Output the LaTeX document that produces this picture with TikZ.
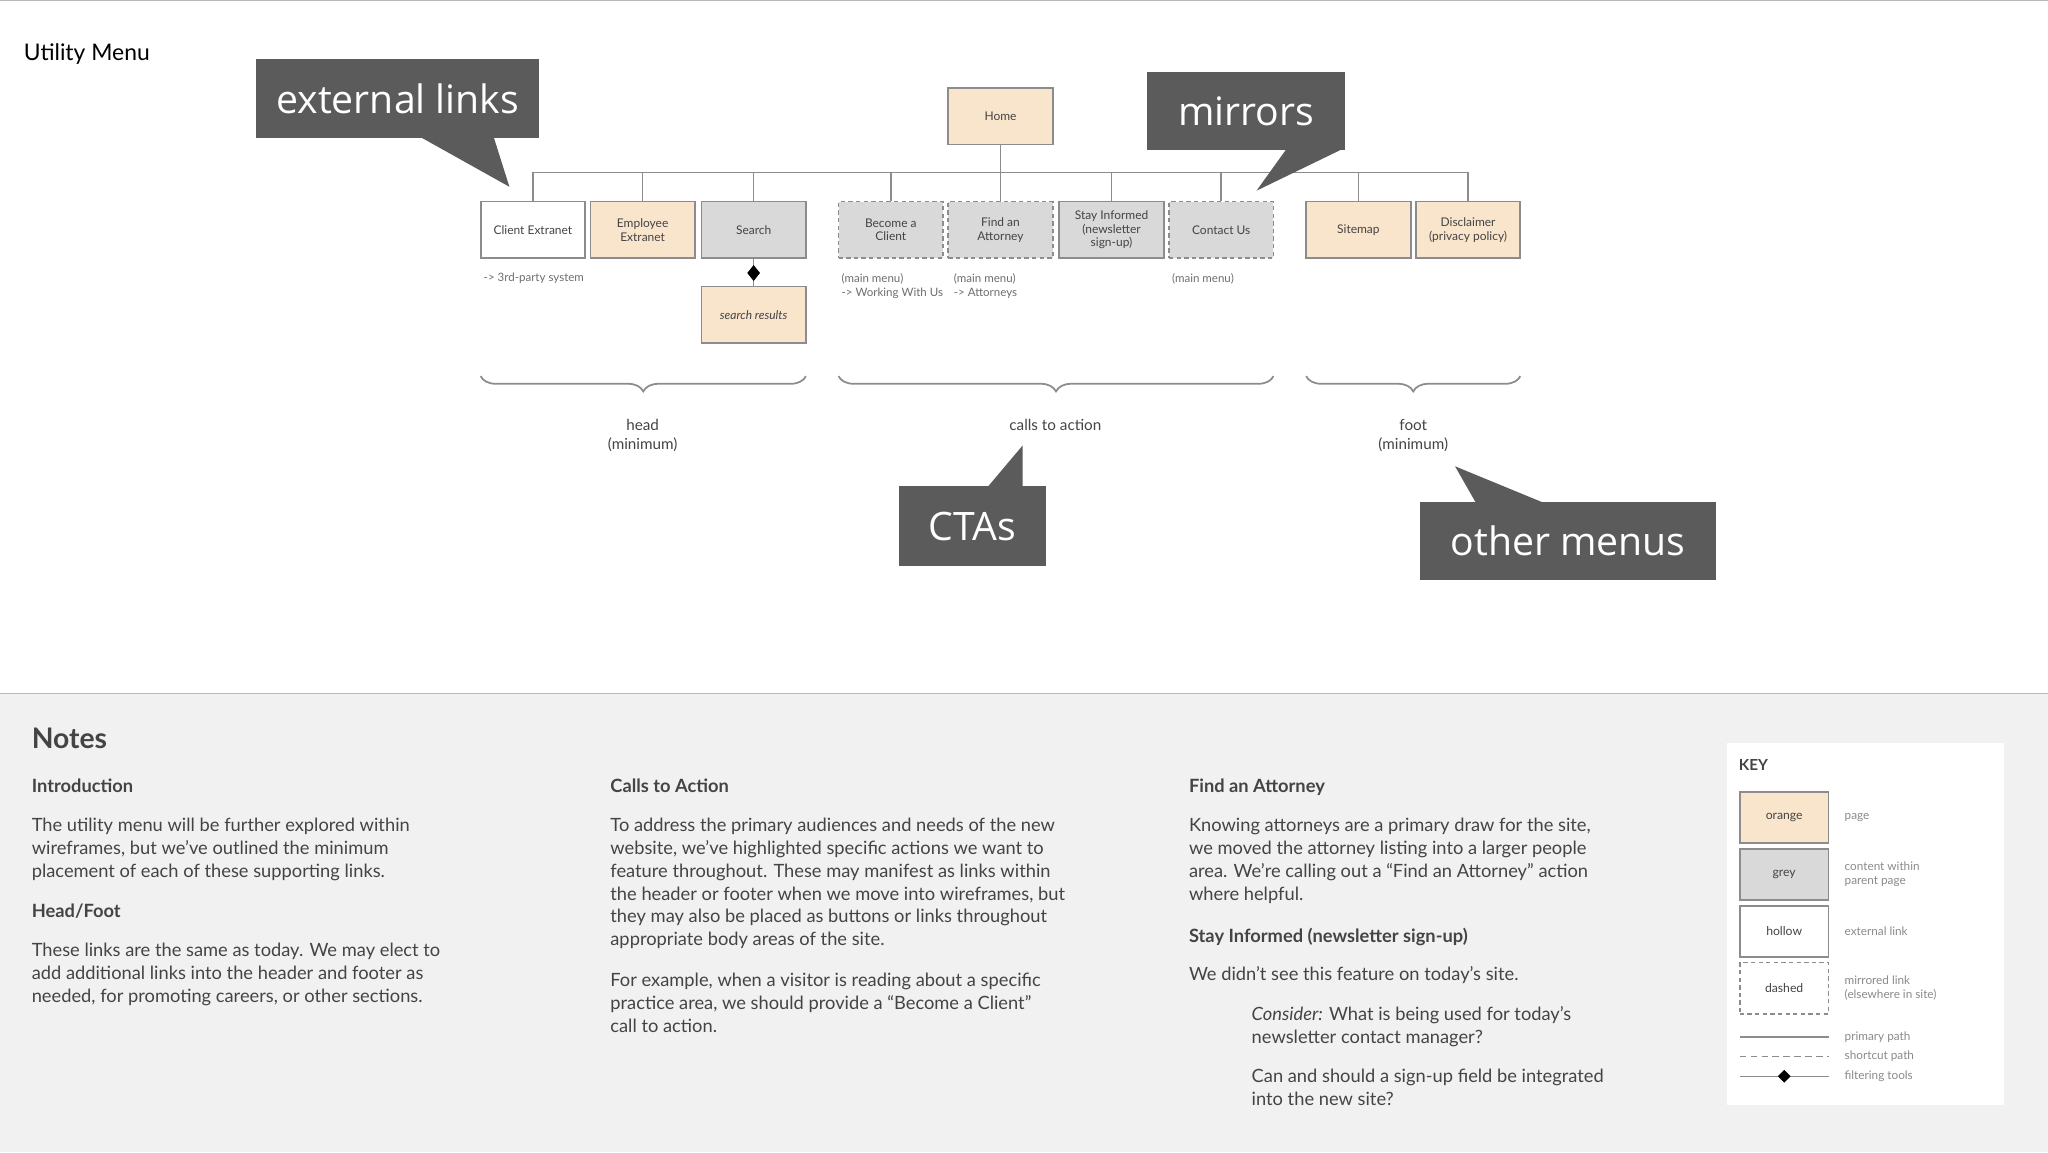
\documentclass[tikz,border=0pt]{standalone}
\usepackage{fontspec}
\setmainfont{Lato}
\newfontfamily\callfont{Open Sans}
\usetikzlibrary{decorations.pathreplacing,shapes.geometric}
\definecolor{peach}{HTML}{F9E4CC}
\definecolor{greyfill}{HTML}{D9D9D9}
\definecolor{bord}{HTML}{8C8C8C}
\definecolor{callout}{HTML}{5B5B5B}
\definecolor{txt}{HTML}{444444}
\definecolor{notebg}{HTML}{F2F1F1}
\definecolor{light}{HTML}{8A8A8A}
\tikzset{
 box/.style={draw=bord,line width=0.8pt,minimum width=48pt,minimum height=26pt,inner sep=1pt,align=center,font=\fontsize{5.5}{6.3}\selectfont,text=txt},
 page/.style={box,fill=peach},
 grey/.style={box,fill=greyfill},
 hollow/.style={box,fill=white},
 mirror/.style={box,fill=greyfill,dashed,dash pattern=on 2pt off 1.5pt},
 small/.style={font=\fontsize{5.3}{6.6}\selectfont,text=light!80!black,align=left,anchor=north west,inner sep=0},
 blab/.style={font=\fontsize{7}{8.4}\selectfont,text=txt,align=center,anchor=north,inner sep=0},
 call/.style={fill=callout,draw=none},
 calltxt/.style={text=white,font=\callfont\fontsize{18}{22}\selectfont},
 head/.style={font=\bfseries\fontsize{8.4}{10}\selectfont,text=txt,anchor=north west,inner sep=0},
 para/.style={font=\fontsize{8.4}{10.5}\selectfont,text=txt,anchor=north west,inner sep=0,align=left},
 link/.style={draw=bord,line width=0.7pt},
 klab/.style={font=\fontsize{5.4}{6.5}\selectfont,text=light,anchor=west,align=left,inner sep=0},
}
\begin{document}
\begin{tikzpicture}[x=0.6pt,y=-0.6pt]
\useasboundingbox (0,0) rectangle (1568,882);
\fill[white] (0,0) rectangle (1568,531);
\fill[notebg] (0,531) rectangle (1568,882);
\draw[bord!60,line width=0.8pt] (0,531) -- (1568,531);
\draw[bord!60,line width=0.6pt] (0,0.5) -- (1568,0.5);
\node[anchor=west,inner sep=0,font=\fontsize{10.5}{12}\selectfont] (um) at (18,41) {Utility Menu};

% nodes
\node[page] (home) at (766,89) {Home};
\coordinate (bus) at (766,132);
\node[hollow] (ce) at (408,176) {Client Extranet};
\node[page] (ee) at (492,176) {Employee\\Extranet};
\node[grey] (se) at (577,176) {Search};
\node[mirror] (bc) at (682,176) {Become a\\Client};
\node[mirror] (fa) at (766,176) {Find an\\Attorney};
\node[grey] (si) at (851,176) {Stay Informed\\(newsletter\\sign-up)};
\node[mirror] (cu) at (935,176) {Contact Us};
\node[page] (sm) at (1040,176) {Sitemap};
\node[page] (di) at (1124,176) {Disclaimer\\(privacy policy)};
\node[page,font=\itshape\fontsize{5.5}{6.3}\selectfont] (sr) at (577,241) {search results};

\draw[link] (home) -- (bus);
\draw[link] (ce.north) |- (bus) -| (di.north);
\foreach \n in {ee,se,bc,fa,si,cu,sm}{\draw[link] (\n.north) -- (\n.north |- bus);}
\draw[link] (se) -- (sr);
\node[diamond,fill=black,inner sep=0,minimum width=6pt,minimum height=7.5pt] (dm) at (577,209) {};

\node[small] (n1) at (370,209) {-> 3rd-party system};
\node[small] (n2) at (644,209) {(main menu)\\-> Working With Us};
\node[small] (n3) at (730,209) {(main menu)\\-> Attorneys};
\node[small] (n4) at (897,209) {(main menu)};

% braces
\draw[bord,line width=0.8pt,decorate,decoration={brace,mirror,amplitude=7pt}] (368,288) -- (617,288);
\draw[bord,line width=0.8pt,decorate,decoration={brace,mirror,amplitude=7pt}] (642,288) -- (975,288);
\draw[bord,line width=0.8pt,decorate,decoration={brace,mirror,amplitude=7pt}] (1000,288) -- (1164,288);
\node[blab] (bh) at (492,321) {head\\(minimum)};
\node[blab] (bca) at (808,321) {calls to action};
\node[blab] (bf) at (1082,321) {foot\\(minimum)};

% callouts
\fill[call] (196,45) rectangle (413,106);
\fill[call] (322,105) -- (378,105) -- (390,143) -- cycle;
\node[calltxt] (c1) at (304.5,76) {external links};
\fill[call] (878,55) rectangle (1030,115);
\fill[call] (985,114) -- (1028,114) -- (962,146) -- cycle;
\node[calltxt] (c2) at (954,85) {mirrors};
\fill[call] (688,372) rectangle (801,433);
\fill[call] (756,373) -- (783,341) -- (783,373) -- cycle;
\node[calltxt] (c3) at (744.5,403) {CTAs};
\fill[call] (1087,384) rectangle (1314,444);
\fill[call] (1114,357) -- (1130,385) -- (1182,385) -- cycle;
\node[calltxt] (c4) at (1200.5,414) {other menus};

% notes
\node[head,font=\bfseries\fontsize{13}{15}\selectfont] (nt) at (24,557) {Notes};
\node[head] (h1) at (24,596) {Introduction};
\node[para] (p1) at (24,626) {The utility menu will be further explored within\\wireframes, but we’ve outlined the minimum\\placement of each of these supporting links.};
\node[head] (h2) at (24,692) {Head/Foot};
\node[para] (p2) at (24,722) {These links are the same as today. We may elect to\\add additional links into the header and footer as\\needed, for promoting careers, or other sections.};
\node[head] (h3) at (467,596) {Calls to Action};
\node[para] (p3) at (467,626) {To address the primary audiences and needs of the new\\website, we’ve highlighted specific actions we want to\\feature throughout. These may manifest as links within\\the header or footer when we move into wireframes, but\\they may also be placed as buttons or links throughout\\appropriate body areas of the site.};
\node[para] (p4) at (467,745) {For example, when a visitor is reading about a specific\\practice area, we should provide a “Become a Client”\\call to action.};
\node[head] (h4) at (910,596) {Find an Attorney};
\node[para] (p5) at (910,626) {Knowing attorneys are a primary draw for the site,\\we moved the attorney listing into a larger people\\area. We’re calling out a “Find an Attorney” action\\where helpful.};
\node[head] (h5) at (910,710) {Stay Informed (newsletter sign-up)};
\node[para] (p6) at (910,740) {We didn’t see this feature on today’s site.};
\node[para] (p7) at (958,770) {\textit{Consider:} What is being used for today’s\\newsletter contact manager?};
\node[para] (p8) at (958,818) {Can and should a sign-up field be integrated\\into the new site?};

% key
\fill[white] (1322,569) rectangle (1534,846);
\node[head,font=\bfseries\fontsize{7}{8}\selectfont] (key) at (1331,581) {KEY};
\tikzset{kbox/.style={minimum width=40.8pt,minimum height=23.5pt,font=\fontsize{5.6}{6}\selectfont}}
\node[page,kbox] (k1) at (1366,626) {orange};
\node[grey,kbox] (k2) at (1366,669.5) {grey};
\node[hollow,kbox] (k3) at (1366,713) {hollow};
\node[box,kbox,fill=white,dashed,dash pattern=on 2pt off 1.5pt] (k4) at (1366,756.5) {dashed};
\node[klab] (l1) at (1412,626) {page};
\node[klab] (l2) at (1412,669.5) {content within\\parent page};
\node[klab] (l3) at (1412,713) {external link};
\node[klab] (l4) at (1412,756.5) {mirrored link\\(elsewhere in site)};
\coordinate (a1) at (1332,794); \coordinate (b1) at (1400,794);
\coordinate (a2) at (1332,809); \coordinate (b2) at (1400,809);
\coordinate (a3) at (1332,824); \coordinate (b3) at (1400,824);
\draw[link] (a1) -- (b1);
\draw[link,dashed,dash pattern=on 3pt off 2pt] (a2) -- (b2);
\draw[link] (a3) -- (b3);
\node[diamond,fill=black,inner sep=0,minimum width=6pt,minimum height=6pt] (kd) at (1366,824) {};
\node[klab] (l5) at (1412,794) {primary path};
\node[klab] (l6) at (1412,809) {shortcut path};
\node[klab] (l7) at (1412,824) {filtering tools};
\end{tikzpicture}
\end{document}
